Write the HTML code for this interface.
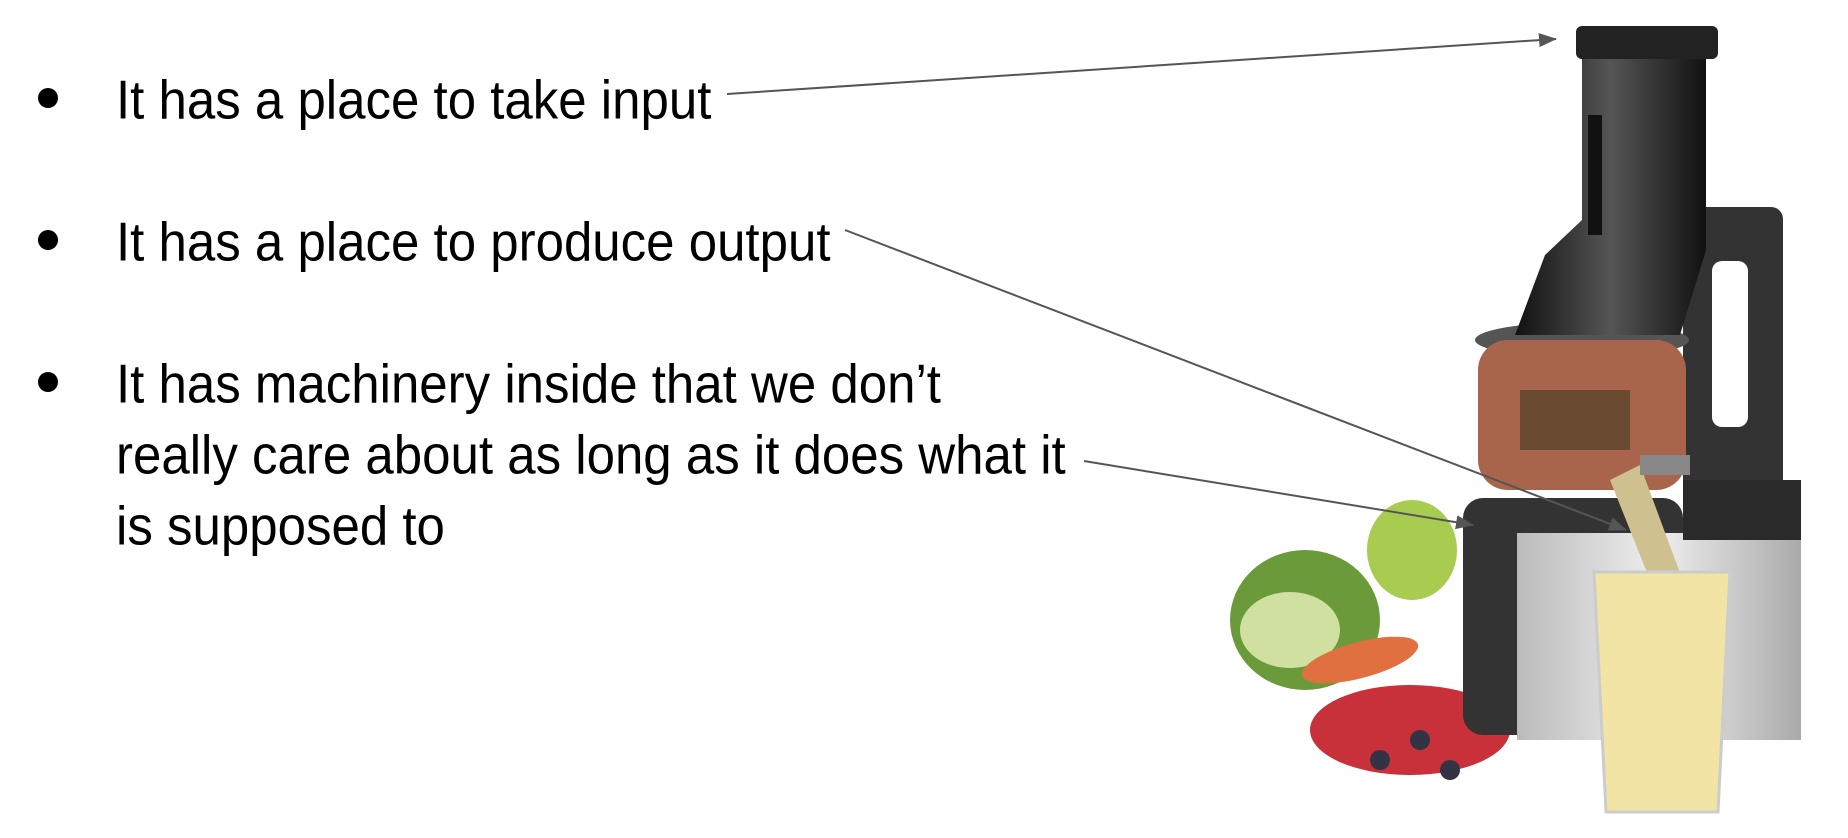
<!DOCTYPE html>
<html><head><meta charset="utf-8"><style>
html,body{margin:0;padding:0;background:#fff;}
body{width:1848px;height:838px;position:relative;overflow:hidden;font-family:"Liberation Sans",Arial,sans-serif;}
.t{position:absolute;font-size:51px;color:#000;white-space:nowrap;line-height:1;transform:scaleY(1.08);transform-origin:0 70%;}
.b{position:absolute;width:20px;height:20px;border-radius:50%;background:#000;}
svg{position:absolute;left:0;top:0;}
</style></head><body>
<svg width="1848" height="838" viewBox="0 0 1848 838">
<defs>
<linearGradient id="dk" x1="0" x2="1"><stop offset="0" stop-color="#111"/><stop offset="0.5" stop-color="#555"/><stop offset="1" stop-color="#111"/></linearGradient>
<linearGradient id="sv" x1="0" x2="1"><stop offset="0" stop-color="#bbb"/><stop offset="0.5" stop-color="#eee"/><stop offset="1" stop-color="#aaa"/></linearGradient>
<marker id="ah" markerWidth="18" markerHeight="14" refX="17" refY="7" orient="auto" markerUnits="userSpaceOnUse"><path d="M0,0 L18,7 L0,14 z" fill="#555"/></marker>
</defs>
<ellipse cx="1305" cy="620" rx="75" ry="70" fill="#6a9a3a"/>
<ellipse cx="1290" cy="630" rx="50" ry="38" fill="#cfe0a0"/>
<ellipse cx="1412" cy="550" rx="45" ry="50" fill="#a8cc50"/>
<ellipse cx="1360" cy="660" rx="60" ry="18" fill="#e07040" transform="rotate(-15 1360 660)"/>
<ellipse cx="1410" cy="730" rx="100" ry="45" fill="#c8303a"/>
<circle cx="1380" cy="760" r="10" fill="#334"/><circle cx="1420" cy="740" r="10" fill="#334"/><circle cx="1450" cy="770" r="10" fill="#334"/>
<rect x="1463" y="498" width="220" height="237" rx="20" fill="#333"/>
<rect x="1517" y="533" width="284" height="207" fill="url(#sv)"/>
<rect x="1683" y="207" width="100" height="291" rx="12" fill="#333"/>
<rect x="1712" y="261" width="36" height="166" rx="10" fill="#fff"/>
<rect x="1683" y="480" width="118" height="60" fill="#2a2a2a"/>
<ellipse cx="1582" cy="340" rx="107" ry="18" fill="#555"/>
<rect x="1478" y="340" width="208" height="150" rx="30" fill="#a8654c"/>
<rect x="1520" y="390" width="110" height="60" fill="#6a4a30"/>
<path d="M1515 335 L1545 255 L1582 220 L1582 53 L1706 53 L1706 250 L1680 335 Z" fill="url(#dk)"/>
<rect x="1576" y="26" width="142" height="33" rx="6" fill="#222"/>
<rect x="1588" y="115" width="14" height="120" fill="#111"/>
<path d="M1610 480 L1640 465 L1690 600 L1660 605 Z" fill="#cfc090"/>
<rect x="1640" y="455" width="50" height="20" fill="#888"/>
<path d="M1594 572 L1730 572 L1718 812 L1606 812 Z" fill="#f2e4a4" stroke="#ccc" stroke-width="3"/>
<g stroke="#555" stroke-width="2" fill="none">
<line x1="727" y1="94" x2="1556" y2="39" marker-end="url(#ah)"/>
<line x1="845" y1="230" x2="1626" y2="530" marker-end="url(#ah)"/>
<line x1="1084" y1="461" x2="1473" y2="525" marker-end="url(#ah)"/>
</g>
</svg>
<div class="b" style="left:38px;top:88px"></div>
<div class="t" style="left:116px;top:75px">It has a place to take input</div>
<div class="b" style="left:38px;top:230px"></div>
<div class="t" style="left:116px;top:217px">It has a place to produce output</div>
<div class="b" style="left:38px;top:372px"></div>
<div class="t" style="left:116px;top:359px">It has machinery inside that we don’t</div>
<div class="t" style="left:116px;top:430px">really care about as long as it does what it</div>
<div class="t" style="left:116px;top:501px">is supposed to</div>
</body></html>
